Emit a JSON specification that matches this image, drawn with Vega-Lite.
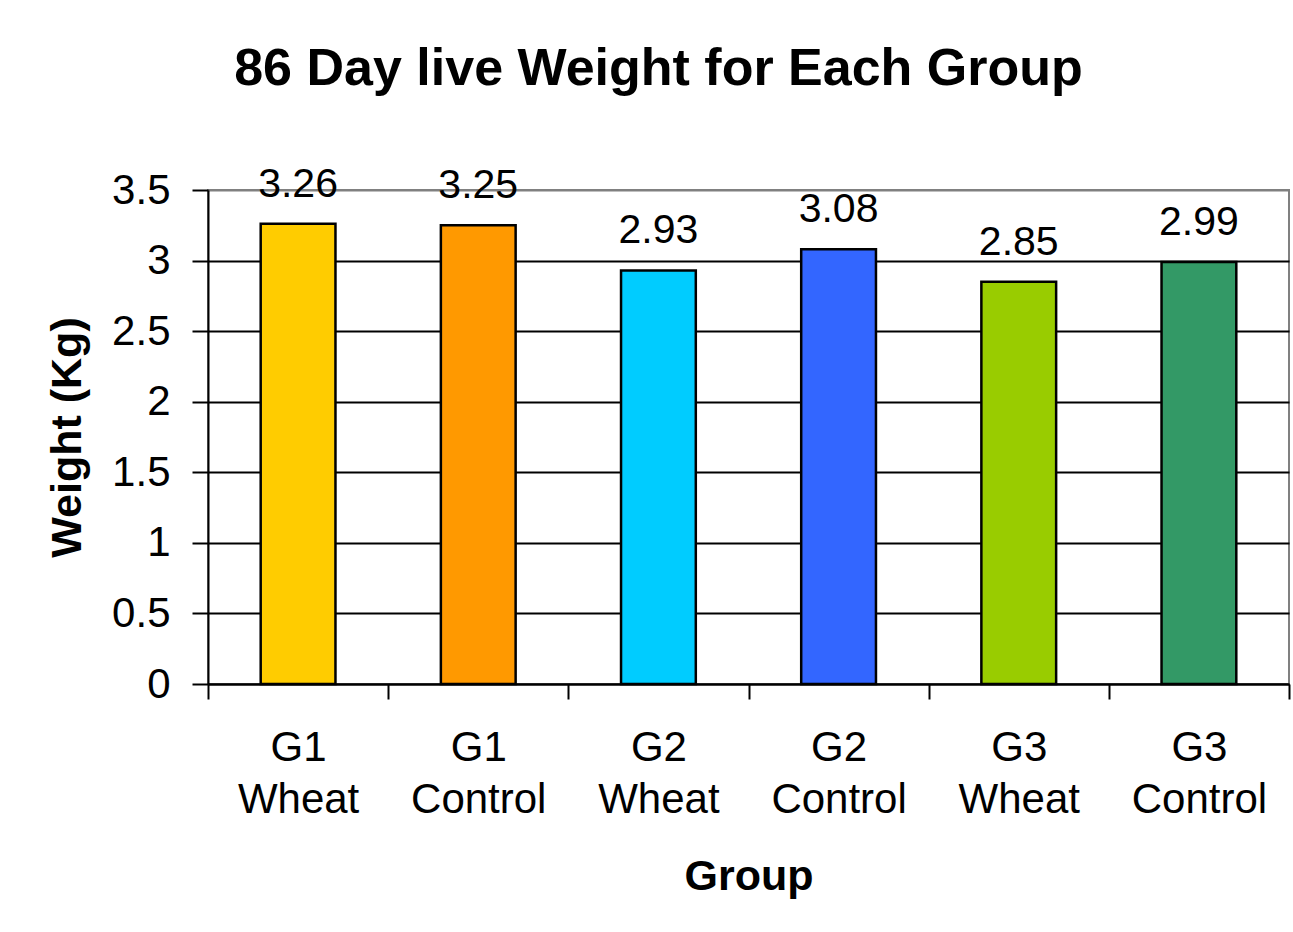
{
  "$schema": "https://vega.github.io/schema/vega-lite/v6.json",
  "autosize": "none",
  "width": 1081,
  "height": 494,
  "padding": {"left": 208, "top": 190, "right": 4, "bottom": 248},
  "background": "white",
  "title": {
    "text": "86 Day live Weight for Each Group",
    "font": "Liberation Sans",
    "fontSize": 52,
    "fontWeight": "bold",
    "color": "black",
    "anchor": "middle",
    "frame": "group",
    "dx": -90,
    "baseline": "alphabetic",
    "offset": 27
  },
  "config": {
    "view": {"stroke": "#808080", "strokeWidth": 2},
    "font": "Liberation Sans"
  },
  "data": {
    "values": [
      {"group": "G1 Wheat", "weight": 3.26},
      {"group": "G1 Control", "weight": 3.25},
      {"group": "G2 Wheat", "weight": 2.93},
      {"group": "G2 Control", "weight": 3.08},
      {"group": "G3 Wheat", "weight": 2.85},
      {"group": "G3 Control", "weight": 2.99}
    ]
  },
  "encoding": {
    "x": {
      "field": "group",
      "type": "nominal",
      "sort": null,
      "scale": {"paddingInner": 0, "paddingOuter": 0},
      "axis": {
        "title": "Group",
        "titleFont": "Liberation Sans",
        "titleFontSize": 43,
        "titleFontWeight": "bold",
        "titleColor": "black",
        "titlePadding": 35,
        "labelAngle": 0,
        "labelFont": "Liberation Sans",
        "labelFontSize": 42,
        "labelColor": "black",
        "labelExpr": "split(datum.label, ' ')",
        "labelLineHeight": 52,
        "labelPadding": 28,
        "tickBand": "extent",
        "tickSize": 15,
        "tickColor": "black",
        "tickWidth": 2,
        "domainColor": "black",
        "domainWidth": 2,
        "grid": false
      }
    },
    "y": {
      "field": "weight",
      "type": "quantitative",
      "scale": {"domain": [0, 3.5]},
      "axis": {
        "title": "Weight (Kg)",
        "titleFont": "Liberation Sans",
        "titleFontSize": 43,
        "titleFontWeight": "bold",
        "titleColor": "black",
        "titlePadding": 22,
        "values": [0, 0.5, 1, 1.5, 2, 2.5, 3, 3.5],
        "labelFont": "Liberation Sans",
        "labelFontSize": 42,
        "labelColor": "black",
        "labelPadding": 22,
        "labelExpr": "datum.value",
        "tickSize": 16,
        "tickColor": "black",
        "tickWidth": 2,
        "domainColor": "black",
        "domainWidth": 2,
        "grid": true,
        "gridColor": {"condition": {"test": "datum.value == 3.5", "value": "#808080"}, "value": "black"},
        "gridWidth": 2
      }
    }
  },
  "layer": [
    {
      "mark": {"type": "bar", "stroke": "black", "strokeWidth": 2.5, "width": {"band": 0.415}},
      "encoding": {
        "color": {
          "field": "group",
          "type": "nominal",
          "sort": null,
          "legend": null,
          "scale": {
            "domain": ["G1 Wheat", "G1 Control", "G2 Wheat", "G2 Control", "G3 Wheat", "G3 Control"],
            "range": ["#FFCC00", "#FF9900", "#00CCFF", "#3366FF", "#99CC00", "#339966"]
          }
        }
      }
    },
    {
      "mark": {"type": "text", "font": "Liberation Sans", "fontSize": 41, "color": "black", "baseline": "alphabetic", "dy": -27},
      "encoding": {
        "text": {"field": "weight", "type": "quantitative", "format": ".2f"}
      }
    }
  ]
}
